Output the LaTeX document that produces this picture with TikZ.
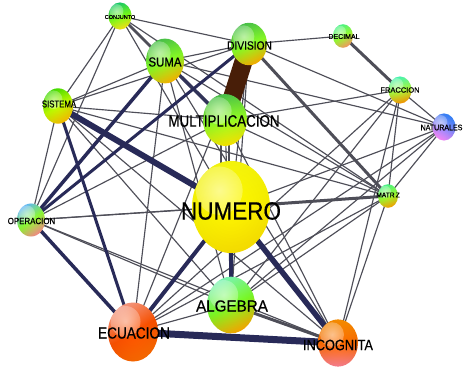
\documentclass[tikz,border=0pt]{standalone}
\usepackage{fontspec}
\setmainfont{Liberation Sans}
\newfontfamily\labfont{Liberation Sans}[FakeBold=0.6]
\usetikzlibrary{shapes.geometric,fadings}

% darker rim and soft highlight used on every sphere
\pgfdeclareradialshading{rimshade}{\pgfpoint{0bp}{0bp}}{color(0bp)=(black); color(30bp)=(black!94); color(50bp)=(black!70)}
\pgfdeclarefading{rim}{\pgfuseshading{rimshade}}
\pgfdeclareradialshading{glowshade}{\pgfpoint{0bp}{0bp}}{color(0bp)=(black!45); color(50bp)=(black)}
\pgfdeclarefading{glow}{\pgfuseshading{glowshade}}

\pgfdeclarelayer{back}
\pgfdeclarelayer{wires}
\pgfsetlayers{back,wires,main}

\definecolor{wiregrey}{RGB}{78,78,88}
\definecolor{navy}{RGB}{40,42,88}
\definecolor{darkbrown}{RGB}{72,30,8}

\newcommand\lbl[3]{\scalebox{#2}[1]{\labfont\fontsize{#1}{#1}\selectfont #3}}

\tikzset{
  sphere/.style n args={5}{
    ellipse, inner sep=0pt,
    minimum width={2*#1 pt}, minimum height={2.36*#1 pt},
    shading=axis, top color=#2, bottom color=#4, middle color=#3,
    shading angle=#5,
    path picture={
      \fill[black, path fading=rim] (path picture bounding box.south west)
        rectangle (path picture bounding box.north east);
      \fill[white, path fading=glow]
        ([xshift={-0.3*#1 pt}, yshift={0.42*#1 pt}]path picture bounding box.center)
        ellipse [x radius={0.6*#1 pt}, y radius={0.62*#1 pt}];
    }},
  tag/.style={inner sep=0pt, text=black},
  wire/.style={draw=wiregrey, line width=1.15pt},
  heavy/.style={draw=navy, line width=#1},
  grey/.style={draw=wiregrey, line width=#1},
}

\begin{document}
\begin{tikzpicture}[x=1pt,y=-1pt]
\begin{pgfonlayer}{back}
\fill[white] (0,0) rectangle (464,370);
\end{pgfonlayer}
\useasboundingbox (0,0) rectangle (464,370);

% spheres
\node[sphere={11.5}{green!55!cyan!80!black!90}{green!60!yellow!90}{yellow!80!orange!90}{20}] (conjunto) at (120,16) {};
\node[sphere={19}{green!70!black!70!white}{green!55!yellow!85}{orange!55!yellow}{25}] (suma) at (165,61) {};
\node[sphere={18}{green!70!black!70!white}{green!55!yellow!85}{orange!60!yellow}{25}] (division) at (249,44) {};
\node[sphere={10}{green!65!cyan!70!white}{green!50!yellow!80}{orange!70!red!60!white}{30}] (decimal) at (343,36) {};
\node[sphere={11.5}{cyan!60!green!70!white}{green!45!yellow!75}{orange!80!yellow}{15}] (fraccion) at (400,90) {};
\node[sphere={11.5}{blue!60!cyan!80!white}{blue!45!white}{magenta!45!white}{-30}] (naturales) at (444,127) {};
\node[sphere={15}{green!70!yellow!90!black}{yellow!75!green}{orange!50!yellow}{30}] (sistema) at (58,106) {};
\node[sphere={22}{green!70!black!70!white}{green!50!yellow!85}{yellow!85!orange}{15}] (multiplicacion) at (225,120) {};
\node[sphere={39}{yellow!95!white}{yellow!95!orange}{yellow!80!orange}{20}] (numero) at (231,207) {};
\node[sphere={10}{green!65!cyan!70!white}{green!50!yellow!80}{orange!70!yellow}{20}] (matriz) at (388,196) {};
\node[sphere={14}{cyan!60!blue!60!white}{green!55!yellow!80}{red!45!white}{35}] (operacion) at (31,220) {};
\node[sphere={24}{cyan!45!green!50!white}{green!60!yellow!85}{orange!65!yellow}{25}] (algebra) at (231,305) {};
\node[sphere={25}{red!40!magenta!30!orange!60!white}{orange!65!red}{orange!85!red}{30}] (ecuacion) at (133,332) {};
\node[sphere={20}{orange!85!yellow}{orange!85!red}{orange!60!magenta!70!white}{0}] (incognita) at (338,343) {};

% labels
\node[tag] (conjunto-t) at (120,17) {\lbl{5.5}{1}{CONJUNTO}};
\node[tag] (suma-t) at (165,62) {\lbl{13}{0.88}{SUMA}};
\node[tag] (division-t) at (249.5,45.5) {\lbl{12}{0.85}{DIVISION}};
\node[tag] (decimal-t) at (344,36.5) {\lbl{7}{1}{DECIMAL}};
\node[tag] (fraccion-t) at (400,90) {\lbl{7.5}{1}{FRACCION}};
\node[tag] (naturales-t) at (441.5,127.5) {\lbl{8}{0.88}{NATURALES}};
\node[tag] (sistema-t) at (59,104) {\lbl{10}{0.78}{SISTEMA}};
\node[tag] (multiplicacion-t) at (224,121) {\lbl{16.5}{0.81}{MULTIPLICACION}};
\node[tag] (numero-t) at (231,211) {\lbl{25}{0.9}{NUMERO}};
\node[tag] (matriz-t) at (388,195) {\lbl{7}{0.95}{MATR\,Z}};
\node[tag] (operacion-t) at (31.5,221) {\lbl{9}{0.88}{OPERACION}};
\node[tag] (algebra-t) at (232,306) {\lbl{16}{0.95}{ALGEBRA}};
\node[tag] (ecuacion-t) at (134,333) {\lbl{16}{0.85}{ECUACION}};
\node[tag] (incognita-t) at (338,345) {\lbl{15}{0.85}{INCOGNITA}};

\begin{pgfonlayer}{wires}
% weak links
\foreach \a/\b in {
  conjunto/sistema, conjunto/operacion, conjunto/division, conjunto/numero, conjunto/matriz,
  sistema/suma, sistema/division, sistema/multiplicacion, sistema/matriz, sistema/operacion,
  sistema/incognita, sistema/algebra,
  suma/division, suma/matriz, suma/algebra, suma/incognita, suma/ecuacion, suma/naturales,
  division/decimal, division/naturales, division/numero, division/algebra, division/ecuacion,
  multiplicacion/fraccion, multiplicacion/matriz, multiplicacion/operacion,
  multiplicacion/algebra, multiplicacion/incognita,
  fraccion/naturales, fraccion/matriz, fraccion/ecuacion, fraccion/algebra, fraccion/incognita,
  naturales/matriz, naturales/algebra, naturales/ecuacion, naturales/numero,
  matriz/incognita, matriz/algebra, matriz/ecuacion, matriz/operacion,
  operacion/numero, operacion/algebra, operacion/incognita,
  algebra/ecuacion}
  \draw[wire] (\a.center) -- (\b.center);
\draw[wire] ([xshift=-4pt]multiplicacion.center) -- ([xshift=-10pt]numero.center);
\draw[wire] ([xshift=4pt]multiplicacion.center) -- ([xshift=-2pt]numero.center);

% medium links
\draw[grey=2.5pt] (conjunto.center) -- (suma.center);
\draw[grey=2pt] (conjunto.center) -- (multiplicacion.center);
\draw[grey=3pt] (division.center) -- (matriz.center);
\draw[grey=3pt] (decimal.center) -- (fraccion.center);
\draw[grey=3pt] (numero.center) -- (matriz.center);
\draw[grey=3pt] (algebra.center) -- (incognita.center);
\draw[heavy=3.5pt, draw=navy!75!wiregrey] (suma.center) -- (multiplicacion.center);

% strong links
\draw[heavy=3.5pt] (operacion.center) -- (suma.center);
\draw[heavy=3pt] (operacion.center) -- (division.center);
\draw[heavy=3.5pt] (operacion.center) -- (ecuacion.center);
\draw[heavy=3pt] (sistema.center) -- (ecuacion.center);
\draw[heavy=4pt] (numero.center) -- (ecuacion.center);
\draw[heavy=4pt] (numero.center) -- (algebra.center);
\draw[heavy=5.5pt] (numero.center) -- (incognita.center);
\draw[heavy=6pt] (sistema.center) -- (numero.center);
\draw[heavy=7pt] (ecuacion.center) -- (incognita.center);
\draw[draw=darkbrown, line width=18pt] (division.center) -- (multiplicacion.center);
\end{pgfonlayer}
\end{tikzpicture}
\end{document}
